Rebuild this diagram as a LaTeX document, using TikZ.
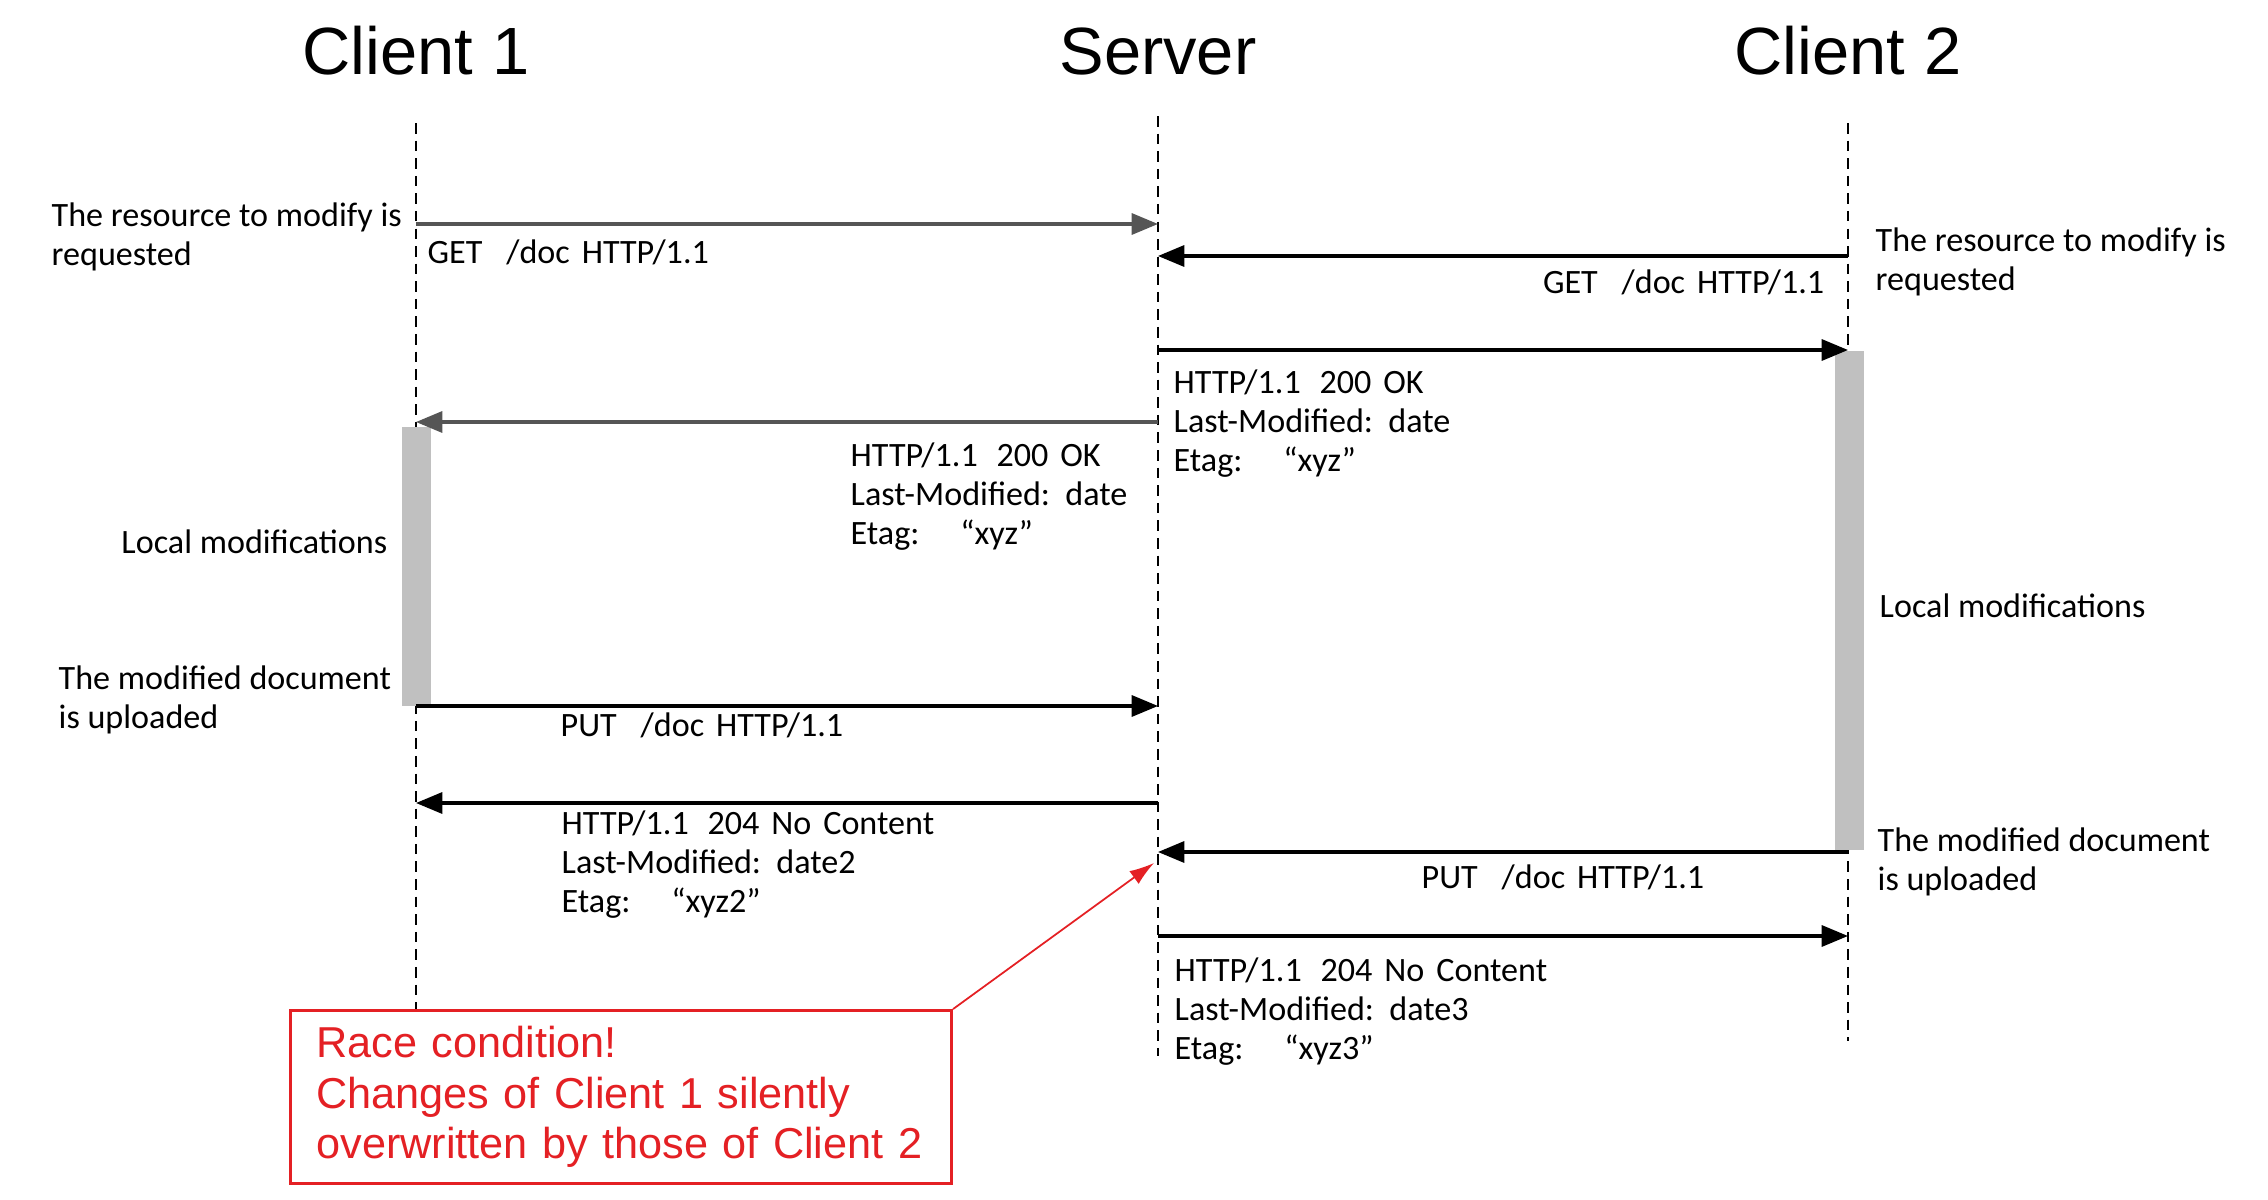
\documentclass[tikz,border=0pt]{standalone}
\usepackage{fontspec}
\setmainfont{Carlito}
\newfontfamily\headfont{Liberation Sans}
\usetikzlibrary{arrows.meta,positioning}
\definecolor{bargrey}{RGB}{192,192,192}
\definecolor{racered}{RGB}{228,32,36}
\definecolor{msggrey}{RGB}{85,85,85}

\begin{document}
\begin{tikzpicture}[x=0.01cm, y=-0.01cm,
    actor/.style={font=\headfont\fontsize{19}{23}\selectfont},
    life/.style={densely dashed, line width=0.4pt},
    msg/.style={-{Triangle[length=7.5pt,width=6pt]}, line width=0.9pt},
    lbl/.style={font=\fontsize{9.7}{11.1}\selectfont, align=left, inner sep=0pt},
    bar/.style={fill=bargrey, draw=none},
    racebox/.style={draw=racered, line width=0.8pt, fill=white, text=racered,
                    font=\headfont\fontsize{12.3}{14.4}\selectfont, align=left,
                    minimum width=6.61cm, minimum height=1.73cm, text width=6.09cm, inner sep=0pt},
    racearrow/.style={-{Latex[length=7pt,width=4.5pt]}, draw=racered, line width=0.5pt}]
    \useasboundingbox (0,0) rectangle (2268,1200);

    % actors
    \node[actor] (client1) at (416,51) {Client 1};
    \node[actor] (server) at (1158,51) {Server};
    \node[actor] (client2) at (1848,51) {Client 2};

    % warning box
    \node[racebox] (race) at (621,1097) {Race condition!\\ Changes of Client 1 silently\\ overwritten by those of Client 2};

    % lifelines
    \coordinate (c1top) at (416,123);
    \coordinate (srvtop) at (1158,116);
    \coordinate (srvbot) at (1158,1056);
    \coordinate (c2top) at (1848,123);
    \coordinate (c2bot) at (1848,1041);
    \draw[life] (c1top) -- (c1top |- race.north);
    \draw[life] (srvtop) -- (srvbot);
    \draw[life] (c2top) -- (c2bot);

    % activity bars
    \path[bar] (402,427) rectangle (431,706);
    \path[bar] (1835,351) rectangle (1864,850);

    % message end points
    \coordinate (get1a) at (416,224);  \coordinate (get1b) at (1158,224);
    \coordinate (get2a) at (1848,256); \coordinate (get2b) at (1158,256);
    \coordinate (ok2a) at (1158,350);  \coordinate (ok2b) at (1848,350);
    \coordinate (ok1a) at (1158,422);  \coordinate (ok1b) at (416,422);
    \coordinate (put1a) at (416,706);  \coordinate (put1b) at (1158,706);
    \coordinate (nc1a) at (1158,803);  \coordinate (nc1b) at (416,803);
    \coordinate (put2a) at (1848,852); \coordinate (put2b) at (1158,852);
    \coordinate (nc2a) at (1158,936);  \coordinate (nc2b) at (1848,936);
    \coordinate (racetarget) at (1154,863);

    \draw[msg, draw=msggrey] (get1a) -- (get1b);
    \draw[msg] (get2a) -- (get2b);
    \draw[msg] (ok2a) -- (ok2b);
    \draw[msg, draw=msggrey] (ok1a) -- (ok1b);
    \draw[msg] (put1a) -- (put1b);
    \draw[msg] (nc1a) -- (nc1b);
    \draw[msg] (put2a) -- (put2b);
    \draw[msg] (nc2a) -- (nc2b);
    \draw[racearrow] (race.north east) -- (racetarget);

    % message labels
    \node[lbl, anchor=west] (get1lbl) at (427,252) {GET\hspace{0.7em}/doc\hspace{0.35em}HTTP/1.1};
    \node[lbl, anchor=east] (get2lbl) at (1825,282) {GET\hspace{0.7em}/doc\hspace{0.35em}HTTP/1.1};
    \node[lbl, anchor=west] (ok2lbl) at (1173,424) {HTTP/1.1\hspace{0.55em}200\hspace{0.35em}OK\\ Last-Modified:\hspace{0.45em}date\\ Etag:\hspace{1.2em}“xyz”};
    \node[lbl, anchor=west] (ok1lbl) at (850,497) {HTTP/1.1\hspace{0.55em}200\hspace{0.35em}OK\\ Last-Modified:\hspace{0.45em}date\\ Etag:\hspace{1.2em}“xyz”};
    \node[lbl, anchor=west] (put1lbl) at (560,725) {PUT\hspace{0.7em}/doc\hspace{0.35em}HTTP/1.1};
    \node[lbl, anchor=west] (nc1lbl) at (561,865) {HTTP/1.1\hspace{0.55em}204\hspace{0.35em}No\hspace{0.35em}Content\\ Last-Modified:\hspace{0.45em}date2\\ Etag:\hspace{1.2em}“xyz2”};
    \node[lbl] (put2lbl) at (1563,877) {PUT\hspace{0.7em}/doc\hspace{0.35em}HTTP/1.1};
    \node[lbl, anchor=west] (nc2lbl) at (1174,1012) {HTTP/1.1\hspace{0.55em}204\hspace{0.35em}No\hspace{0.35em}Content\\ Last-Modified:\hspace{0.45em}date3\\ Etag:\hspace{1.2em}“xyz3”};

    % side notes
    \node[lbl, anchor=west] (res1) at (51,237) {The resource to modify is\\ requested};
    \node[lbl, anchor=east] (loc1) at (388,542) {Local modifications};
    \node[lbl, anchor=west] (up1) at (58,700) {The modified document\\ is uploaded};
    \node[lbl, anchor=west] (res2) at (1875,262) {The resource to modify is\\ requested};
    \node[lbl, anchor=west] (loc2) at (1879,606) {Local modifications};
    \node[lbl, anchor=west] (up2) at (1877,862) {The modified document\\ is uploaded};
\end{tikzpicture}
\end{document}
